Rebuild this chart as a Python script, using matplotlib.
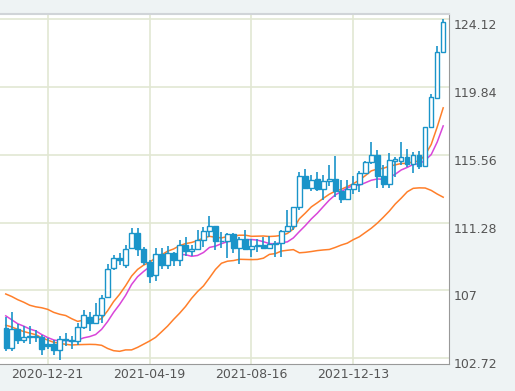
import matplotlib
matplotlib.use('Agg')
import matplotlib.pyplot as plt
import numpy as np
import pandas as pd
from matplotlib.transforms import blended_transform_factory

# weekly candles, 2020-11-02 .. 2022-03-28
weeks = pd.date_range('2020-11-02', periods=74, freq='W-MON').strftime('%Y-%m-%d').tolist()
tick_labels = ["2020-12-21", "2021-04-19", "2021-08-16", "2021-12-13"]
y_ticks = [102.72, 107.0, 111.28, 115.56, 119.84, 124.12]
y_tick_labels = ["102.72", "107", "111.28", "115.56", "119.84", "124.12"]

opens = [104.65, 103.35, 104.6, 103.85, 104.05, 104.05, 104.05, 103.6, 103.6, 103.25,
         103.95, 103.9, 103.8, 104.7, 105.35, 104.95, 105.45, 106.6, 108.4, 109.05,
         108.6, 109.7, 110.65, 109.65, 108.8, 107.95, 109.3, 108.6, 109.35, 108.95,
         109.85, 109.5, 109.65, 110.2, 110.75, 111.05, 110.15, 110.1, 110.55, 109.7,
         110.25, 109.6, 109.8, 109.85, 109.7, 109.95, 110.0, 110.75, 111.05, 112.25,
         114.2, 113.5, 114.05, 113.4, 113.9, 114.05, 113.3, 112.8, 113.4, 113.7,
         114.4, 115.1, 115.55, 114.2, 113.75, 115.2, 115.2, 115.45, 115.0, 115.55,
         114.85, 117.35, 119.15, 122.05]
highs = [105.3, 105.65, 104.9, 104.75, 104.75, 104.5, 104.2, 104.0, 103.9, 104.1,
         104.3, 104.1, 104.95, 105.75, 105.65, 106.2, 106.7, 108.65, 109.25, 109.35,
         109.85, 110.95, 110.95, 109.75, 108.95, 109.7, 109.7, 109.8, 109.45, 110.2,
         110.35, 109.85, 110.8, 111.0, 111.7, 111.1, 110.7, 110.6, 110.6, 110.35,
         110.8, 110.25, 110.25, 110.4, 110.45, 110.15, 110.8, 112.1, 112.25, 114.45,
         114.7, 114.3, 114.45, 114.3, 114.95, 115.5, 113.95, 113.95, 114.25, 114.55,
         115.2, 116.35, 115.85, 114.9, 115.7, 115.4, 116.35, 115.95, 115.75, 115.8,
         117.35, 119.4, 122.45, 124.12]
lows = [103.2, 103.2, 103.65, 103.7, 103.65, 103.75, 102.9, 103.3, 102.95, 102.6,
        103.5, 103.3, 103.55, 104.6, 104.45, 104.9, 104.95, 106.5, 108.3, 108.6,
        108.4, 109.65, 109.2, 108.6, 107.5, 107.6, 108.35, 108.35, 108.55, 108.55,
        109.2, 109.2, 109.6, 109.75, 110.4, 109.55, 109.7, 109.05, 109.35, 108.7,
        109.55, 109.1, 109.45, 109.6, 109.6, 109.1, 109.1, 110.75, 110.8, 112.1,
        113.4, 113.25, 113.3, 112.7, 113.6, 112.9, 112.55, 112.8, 113.1, 113.2,
        114.35, 115.0, 113.5, 113.5, 113.45, 114.15, 114.9, 114.8, 114.4, 114.65,
        114.8, 117.35, 119.1, 122.0]
closes = [103.35, 104.6, 103.85, 104.05, 104.15, 104.1, 103.3, 103.5, 103.25, 103.95,
          103.9, 103.8, 104.7, 105.45, 104.95, 105.45, 106.55, 108.35, 109.05, 108.95,
          109.65, 110.65, 109.65, 108.8, 107.9, 109.3, 108.6, 109.35, 108.95, 109.85,
          109.5, 109.65, 110.2, 110.75, 111.05, 110.15, 110.1, 110.55, 109.7, 110.25,
          109.6, 109.8, 109.85, 109.7, 109.95, 110.0, 110.75, 111.05, 112.25, 114.2,
          113.5, 114.0, 113.4, 113.9, 114.05, 113.3, 112.8, 113.4, 113.7, 114.4,
          115.1, 115.55, 114.2, 113.75, 115.25, 115.3, 115.45, 115.0, 115.55, 114.85,
          117.3, 119.2, 122.05, 123.95]

band_upper = [106.78, 106.62, 106.42, 106.26, 106.07, 105.97, 105.91, 105.81, 105.62, 105.50,
              105.42, 105.22, 105.05, 105.13, 105.06, 105.08, 105.23, 105.72, 106.30, 106.76,
              107.30, 107.91, 108.33, 108.60, 108.78, 109.07, 109.25, 109.48, 109.62, 109.83,
              109.96, 110.03, 110.15, 110.32, 110.42, 110.36, 110.32, 110.41, 110.44, 110.49,
              110.49, 110.42, 110.43, 110.44, 110.41, 110.43, 110.48, 110.60, 110.89, 111.53,
              111.89, 112.28, 112.54, 112.82, 113.08, 113.27, 113.39, 113.56, 113.74, 113.97,
              114.25, 114.55, 114.67, 114.71, 114.85, 114.93, 115.02, 115.02, 115.13, 115.17,
              115.56, 116.22, 117.32, 118.53]
band_lower = [104.81, 104.70, 104.54, 104.41, 104.31, 104.21, 104.02, 103.87, 103.73, 103.67,
              103.60, 103.56, 103.58, 103.59, 103.60, 103.59, 103.54, 103.34, 103.20, 103.16,
              103.25, 103.25, 103.41, 103.61, 103.81, 104.04, 104.39, 104.75, 105.17, 105.56,
              105.99, 106.50, 106.93, 107.29, 107.80, 108.33, 108.72, 108.85, 108.89, 108.97,
              108.96, 108.95, 108.96, 109.04, 109.28, 109.33, 109.49, 109.54, 109.58, 109.38,
              109.41, 109.46, 109.52, 109.56, 109.59, 109.72, 109.87, 109.99, 110.21, 110.39,
              110.66, 110.93, 111.25, 111.62, 112.01, 112.46, 112.83, 113.23, 113.45, 113.48,
              113.47, 113.32, 113.09, 112.89]
ma_line = [105.40, 105.15, 104.90, 104.75, 104.57, 104.45, 104.22, 104.03, 103.88, 103.81,
           103.86, 103.78, 103.87, 104.01, 104.09, 104.22, 104.55, 105.04, 105.62, 106.12,
           106.69, 107.38, 107.87, 108.20, 108.50, 108.88, 109.09, 109.19, 109.18, 109.27,
           109.26, 109.16, 109.21, 109.40, 109.72, 109.80, 109.96, 110.08, 110.15, 110.19,
           110.20, 110.22, 110.18, 110.08, 109.96, 109.95, 110.02, 110.07, 110.32, 110.72,
           111.10, 111.52, 111.88, 112.30, 112.71, 113.04, 113.24, 113.48, 113.62, 113.65,
           113.80, 113.96, 114.04, 114.02, 114.14, 114.34, 114.61, 114.77, 114.96, 115.00,
           115.22, 115.58, 116.37, 117.39]

BLUE = '#1a94c9'
ORANGE = '#ff7f2a'
MAGENTA = '#d946d9'
GRID = '#e2e7d3'
BG = '#eef3f4'

fig = plt.figure(figsize=(5.15, 3.91), dpi=100, facecolor=BG)
ax = fig.add_axes([0, 26.7 / 391, 449.3 / 515, 350 / 391])
ax.set_facecolor('white')
x = np.arange(len(closes))
ax.set_xlim(-0.96, 74.02)
ax.set_ylim(102.341, 124.436)

tick_pos = [weeks.index(t) for t in tick_labels]
for p in tick_pos:
    ax.axvline(p, color=GRID, lw=1.2, zorder=0)
for v in y_ticks:
    ax.axhline(v, color=GRID, lw=1.2, zorder=0)

ax.plot(x, band_lower, color=ORANGE, lw=1.1, zorder=2)
ax.plot(x, band_upper, color=ORANGE, lw=1.1, zorder=2)
ax.plot(x, ma_line, color=MAGENTA, lw=1.1, zorder=2)

o = np.array(opens)
c = np.array(closes)
ax.vlines(x, lows, highs, color=BLUE, lw=1.2, zorder=3)
bull = c >= o
ax.bar(x[bull], (c - o)[bull], bottom=o[bull], width=0.75, color='white',
       edgecolor=BLUE, linewidth=1.0, zorder=4)
ax.bar(x[~bull], (o - c)[~bull], bottom=c[~bull], width=0.75, color=BLUE,
       edgecolor=BLUE, linewidth=1.0, zorder=4)

ax.set_xticks(tick_pos)
ax.set_xticklabels(tick_labels, fontsize=9, color='#555555')
ax.tick_params(axis='x', length=0, pad=3)
ax.set_yticks([])
ax.spines['left'].set_visible(False)
ax.spines['top'].set_color('#d0d4d8')
ax.spines['top'].set_linewidth(1.5)
ax.spines['right'].set_color('#999999')
ax.spines['bottom'].set_color('#999999')

tr = blended_transform_factory(ax.transAxes, ax.transData)
for v, s in zip(y_ticks, y_tick_labels):
    ax.text(1.0 + 4 / 449.3, v, s, transform=tr, ha='left', va='top',
            fontsize=9, color='#555555', clip_on=False)

fig.savefig('out.png', dpi=100, facecolor=BG)
